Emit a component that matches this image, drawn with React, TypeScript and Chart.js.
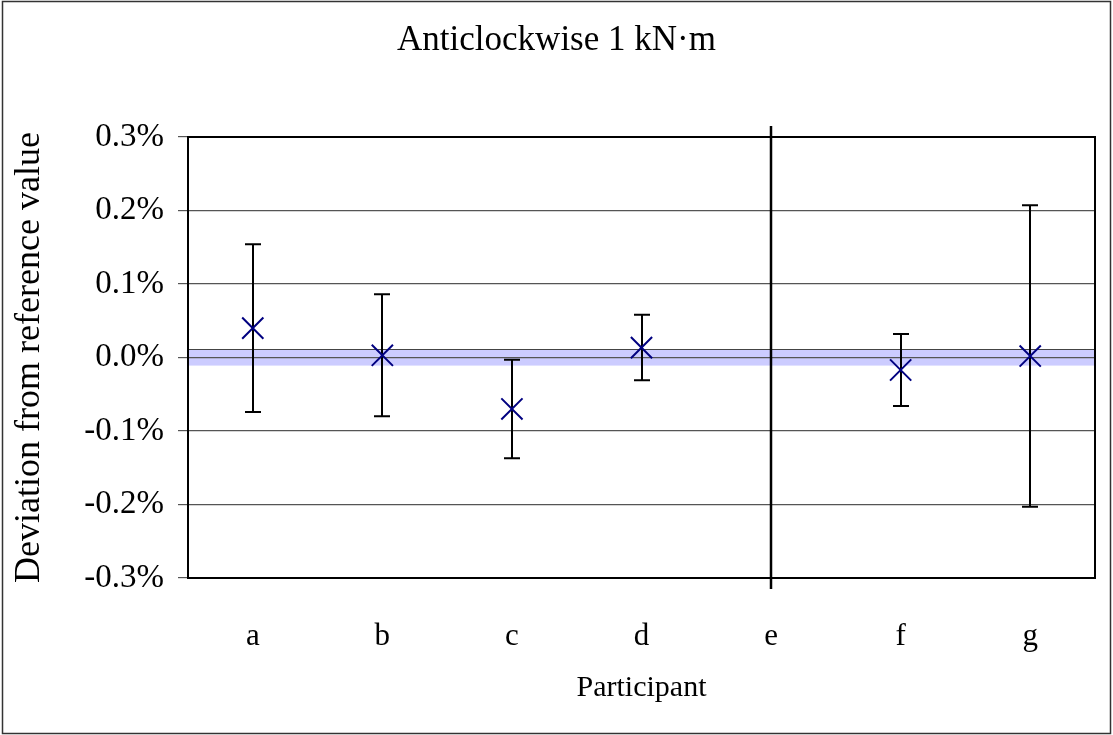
import React, { useEffect, useRef } from "react";
import { Chart, registerables } from "chart.js";

Chart.register(...registerables);

const categories = ["a", "b", "c", "d", "e", "f", "g"];
const deviation: (number | null)[] = [0.04, 0.003, -0.07, 0.0135, null, -0.017, 0.002];
const uncertainty: (number | null)[] = [0.114, 0.083, 0.067, 0.0445, null, 0.049, 0.205];
const referenceBand = [-0.011, 0.011];
const dividerCategory = "e";
const yTicks = [-0.3, -0.2, -0.1, 0, 0.1, 0.2, 0.3];

const FONT = "'Liberation Serif', 'Times New Roman', serif";

const decorations = {
  id: "decorations",
  beforeDraw(chart: any) {
    const { ctx, chartArea, scales } = chart;
    const y = scales.y;
    const yTop = y.getPixelForValue(referenceBand[1]);
    const yBot = y.getPixelForValue(referenceBand[0]);
    ctx.save();
    ctx.fillStyle = "#ccccff";
    ctx.fillRect(chartArea.left, yTop, chartArea.right - chartArea.left, yBot - yTop);
    ctx.strokeStyle = "#444";
    ctx.lineWidth = 1;
    ctx.beginPath();
    ctx.moveTo(chartArea.left, Math.round(yTop) + 0.5);
    ctx.lineTo(chartArea.right, Math.round(yTop) + 0.5);
    ctx.stroke();
    ctx.restore();
  },
  beforeDatasetsDraw(chart: any) {
    const { ctx, scales } = chart;
    const x = scales.x;
    const y = scales.y;
    ctx.save();
    ctx.strokeStyle = "#000";
    ctx.lineWidth = 2;
    deviation.forEach((v, i) => {
      const u = uncertainty[i];
      if (v == null || u == null) return;
      const px = Math.round(x.getPixelForValue(i));
      const top = y.getPixelForValue(v + u);
      const bot = y.getPixelForValue(v - u);
      ctx.beginPath();
      ctx.moveTo(px, top);
      ctx.lineTo(px, bot);
      ctx.moveTo(px - 8, top);
      ctx.lineTo(px + 8, top);
      ctx.moveTo(px - 8, bot);
      ctx.lineTo(px + 8, bot);
      ctx.stroke();
    });
    ctx.restore();
  },
  afterDraw(chart: any) {
    const { ctx, chartArea, scales, width, height } = chart;
    const x = scales.x;
    ctx.save();
    ctx.strokeStyle = "#000";
    ctx.lineWidth = 2;
    ctx.strokeRect(chartArea.left, chartArea.top, chartArea.right - chartArea.left, chartArea.bottom - chartArea.top);
    const ex = Math.round(x.getPixelForValue(categories.indexOf(dividerCategory)));
    ctx.lineWidth = 2.5;
    ctx.beginPath();
    ctx.moveTo(ex, chartArea.top - 11);
    ctx.lineTo(ex, chartArea.bottom + 11);
    ctx.stroke();
    ctx.strokeStyle = "#333";
    ctx.lineWidth = 1.5;
    ctx.strokeRect(2.5, 1.5, width - 5, height - 3);
    ctx.restore();
  },
};

export default function App() {
  const ref = useRef<HTMLCanvasElement>(null);
  useEffect(() => {
    if (!ref.current) return;
    const chart = new Chart(ref.current, {
      type: "line",
      data: {
        labels: categories,
        datasets: [
          {
            data: deviation,
            showLine: false,
            pointStyle: "crossRot",
            pointRadius: 15,
            pointBorderWidth: 2,
            pointBorderColor: "#000080",
            pointBackgroundColor: "#000080",
          },
        ],
      },
      options: {
        animation: false,
        responsive: false,
        devicePixelRatio: 1,
        layout: { padding: { left: 0, right: 0, top: 0, bottom: 0 } },
        plugins: {
          legend: { display: false },
          tooltip: { enabled: false },
          title: {
            display: true,
            text: "Anticlockwise 1 kN·m",
            color: "#000",
            font: { family: FONT, size: 35, weight: "normal" },
            padding: { top: 20, bottom: 75 },
          },
        },
        scales: {
          x: {
            type: "category",
            offset: true,
            afterFit(scale: any) {
              scale.height = 157;
            },
            grid: { display: false, drawTicks: false },
            border: { display: true, color: "#000", width: 2 },
            ticks: { color: "#000", font: { family: FONT, size: 31 }, padding: 40, maxRotation: 0 },
            title: {
              display: true,
              text: "Participant",
              color: "#000",
              font: { family: FONT, size: 30 },
              padding: { top: 10, bottom: 29 },
            },
          },
          y: {
            min: -0.3,
            max: 0.3,
            afterBuildTicks(scale: any) {
              scale.ticks = yTicks.map((v) => ({ value: v }));
            },
            afterFit(scale: any) {
              scale.width = 188;
            },
            grid: { color: "#555", lineWidth: 1.2, tickLength: 10, tickColor: "#555" },
            border: { display: true, color: "#000", width: 2 },
            ticks: {
              color: "#000",
              font: { family: FONT, size: 33 },
              padding: 14,
              callback: (v: any) => `${Number(v).toFixed(1)}%`,
            },
            title: {
              display: true,
              text: "Deviation from reference value",
              color: "#000",
              font: { family: FONT, size: 36 },
              padding: { top: 8, bottom: 4 },
            },
          },
          rightGap: {
            type: "linear",
            position: "right",
            display: true,
            afterFit(scale: any) {
              scale.width = 18;
            },
            grid: { display: false, drawTicks: false },
            border: { display: false },
            ticks: { display: false },
          },
        },
      },
      plugins: [decorations],
    });
    return () => chart.destroy();
  }, []);
  return (
    <div style={{ position: "fixed", left: 0, top: 0, width: 1113, height: 735, background: "#fff" }}>
      <canvas ref={ref} width={1113} height={735} />
    </div>
  );
}
